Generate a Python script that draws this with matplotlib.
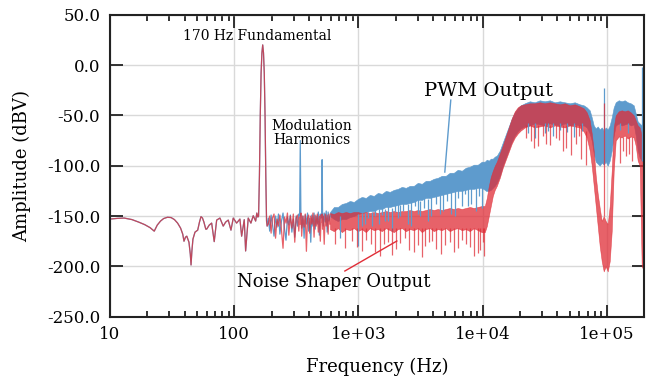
import matplotlib
matplotlib.use("Agg")
import matplotlib.pyplot as plt
from matplotlib.ticker import LogLocator, NullFormatter

PWM_COLOR = "#5e9bcd"
NS_COLOR = "#e02d37"
NS_ALPHA = 0.75

# shared part of both spectra (below ~185 Hz, incl. the 170 Hz fundamental)
common_hz = [10, 11.5, 13, 15, 17, 19, 21, 22.7, 24, 25.5, 27, 29, 31, 33, 35, 37,
             38.5, 39.4, 40.5, 41.5, 43.2, 44.3, 44.9, 45.6, 46.5, 48.3, 50.8, 52.5,
             54, 55.5, 57, 59, 60, 62.9, 65.8, 69, 72.2, 76.7, 81.5, 85.3, 89.5, 94.1,
             98.2, 104.5, 111.1, 114.7, 120.4, 123.5, 129.6, 136.2, 142.2, 148.7, 152,
             155, 157, 159.5, 162, 164.5, 167, 169.5, 172, 174.5, 177, 179.5, 182, 184]
common_db = [-153, -152.3, -152, -153.5, -156, -158.5, -161.5, -165, -159, -155, -152.5,
             -151.2, -151.5, -153.5, -157, -162, -168, -175, -171, -170, -176, -188,
             -198.6, -185, -173, -166, -164, -156, -150.6, -152, -156, -163, -163, -159,
             -157, -175.4, -154, -152, -160, -156, -154, -164, -152, -157, -153, -170,
             -153.6, -184.7, -152, -157, -149.7, -155, -147, -151, -150, -110, -50, -8,
             12, 20, 12, -8, -50, -110, -155, -160]

# sparse noise floor 185-600 Hz (modulation harmonics at 340 / 510 Hz in PWM)
trace_hz = [188, 193, 198, 203, 209, 215, 221, 227, 233, 240, 247, 254, 261, 268, 275,
            283, 291, 299, 307, 315, 323, 331, 336, 340, 344, 349, 357, 365, 373, 381,
            389, 397, 405, 413, 421, 430, 439, 448, 457, 466, 475, 484, 493, 501, 506,
            510, 514, 520, 530, 540, 550, 560, 570, 580, 590]
pwm_trace_db = [-152, -165, -149, -158, -170, -150, -161, -148, -168, -155, -147, -163,
                -174, -151, -159, -149, -166, -153, -171, -150, -160, -148, -150, -75,
                -149, -162, -150, -172, -149, -158, -147, -165, -152, -176, -149, -160,
                -147, -163, -150, -158, -146, -169, -148, -152, -150, -94, -150, -160,
                -147, -156, -145, -166, -146, -155, -150]
ns_trace_db = [-158, -150, -167, -152, -148, -172, -153, -160, -149, -164, -182, -151,
               -157, -147, -169, -150, -162, -148, -176, -152, -149, -165, -151, -158,
               -147, -170, -150, -161, -148, -185, -152, -149, -167, -150, -158, -147,
               -171, -149, -160, -148, -166, -150, -175, -149, -156, -148, -163, -150,
               -178, -148, -160, -149, -168, -148, -158]

# dense part of the spectra, given as top / floor of the noise band
band_hz = [590, 634, 683, 735, 792, 853, 918, 989, 1065, 1147, 1235, 1330, 1433, 1543,
           1662, 1789, 1927, 2075, 2235, 2406, 2591, 2791, 3005, 3236, 3485, 3753, 4042,
           4353, 4688, 5048, 5437, 5855, 6305, 6790, 7311, 7875, 8481, 9133, 9835, 10400,
           10790, 11200, 11620, 12060, 12510, 12990, 13730, 14510, 15340, 16220, 17140,
           18130, 19160, 20250, 21820, 23930, 26250, 28800, 31590, 34660, 38020, 41720,
           45770, 50210, 55080, 60420, 65060, 68780, 72720, 75470, 78320, 81270, 84340,
           87520, 90830, 94250, 97800, 101500, 105300, 109300, 113400, 117700, 124400,
           131600, 139100, 147000, 155400, 164300, 170500, 176900, 183600, 190500, 200000]
pwm_top = [-146, -141, -141, -138, -137, -135, -136, -133, -131, -132, -129, -130, -127,
           -128, -125, -126, -124, -123, -121, -122, -120, -120, -117, -118, -115, -115,
           -113, -112, -110, -110, -107, -107, -104, -105, -102, -101, -99, -99, -96, -96,
           -94, -95, -93, -93, -91, -90, -85, -77, -69, -61, -53, -47, -43, -40, -38, -36,
           -37, -35, -36, -35, -37, -36, -37, -38, -37, -39, -40, -42, -45, -52, -60, -63,
           -61, -64, -62, -65, -62, -64, -60, -52, -42, -37, -35, -36, -35, -37, -38, -40,
           -48, -56, -58, -60, -62]
pwm_floor = [-150, -153, -155, -153, -153, -151, -150, -148, -147, -146, -145, -145, -143,
             -143, -141, -141, -140, -139, -138, -138, -137, -136, -134, -134, -132, -132,
             -131, -130, -129, -128, -127, -126, -125, -125, -124, -123, -123, -122, -122,
             -124, -125, -125, -124, -122, -120, -117, -110, -100, -92, -84, -76, -70, -66,
             -63, -61, -60, -58, -59, -60, -58, -59, -60, -58, -60, -59, -60, -60, -62, -68,
             -75, -88, -96, -98, -100, -97, -99, -96, -100, -95, -85, -70, -60, -58, -60,
             -59, -58, -60, -59, -70, -85, -92, -95, -95]
ns_top = [-147, -148, -146, -147, -146, -147, -146, -146, -147, -146, -147, -146, -147,
          -146, -145, -146, -145, -146, -145, -145, -144, -145, -144, -145, -144, -143,
          -144, -143, -144, -143, -142, -143, -142, -143, -142, -141, -142, -141, -140,
          -140, -132, -120, -111, -105, -100, -96, -88, -80, -71, -62, -53, -46, -42, -40,
          -39, -38, -38, -37, -38, -37, -38, -39, -38, -40, -39, -41, -43, -47, -55, -68,
          -85, -110, -128, -142, -155, -150, -155, -158, -140, -105, -62, -50, -46, -45,
          -46, -45, -47, -50, -55, -60, -62, -70, -150]
ns_floor = [-163, -165, -162, -166, -163, -164, -162, -165, -163, -166, -162, -164, -163,
            -165, -162, -164, -166, -163, -162, -165, -163, -164, -162, -166, -163, -162,
            -165, -163, -164, -162, -165, -163, -162, -164, -163, -165, -162, -164, -166,
            -166, -160, -150, -140, -130, -124, -120, -112, -102, -94, -86, -78, -72, -68,
            -65, -62, -60, -62, -61, -60, -62, -60, -61, -62, -60, -61, -62, -66, -72, -85,
            -100, -120, -140, -160, -180, -195, -205, -200, -205, -195, -165, -105, -75,
            -71, -72, -70, -73, -71, -72, -80, -95, -100, -200, -205]

# isolated spikes: frequency, lower and upper end
pwm_spike_hz = [709, 989, 1126, 1282, 1631, 1856, 2153, 2497, 3119, 3616, 4517, 5964,
                7590, 8800, 31590, 41720, 95480, 190500,
                1065, 1190, 1355, 1459, 1543, 1724, 1963, 2075, 2276, 2640, 2843, 3005,
                3358, 3823, 4195, 4775, 5143, 5540, 6305, 6790, 7178, 8024, 9303, 9835,
                10590, 23060, 26250, 33400, 36640, 47490, 54070, 62720, 126800, 147000]
pwm_spike_lo = [-172, -180, -158, -160, -155, -165, -150, -158, -150, -155, -148, -150,
                -140, -145, -68, -65, -65, -95,
                -160, -152, -150, -158, -149, -155, -146, -152, -145, -160, -140, -148,
                -142, -150, -138, -145, -135, -148, -132, -140, -128, -138, -130, -142,
                -125, -68, -72, -66, -70, -67, -71, -66, -65, -68]
pwm_spike_hi = [-150, -148, -147, -146, -143, -142, -139, -138, -135, -133, -129, -124,
                -120, -117, -58, -58, -23, -2,
                -147, -146, -144, -143, -141, -139, -137, -136, -134, -132, -130, -129,
                -127, -125, -123, -121, -120, -118, -116, -115, -114, -112, -109, -108,
                -107, -58, -58, -58, -58, -58, -58, -58, -58, -58]
ns_spike_hz = [646, 777, 885, 1065, 1259, 1487, 1724, 2000, 2362, 2791, 3421, 3894, 4601,
               5437, 6305, 7311, 8481, 9478, 10200, 24380, 27750, 34660, 38730, 44110,
               51150, 56100, 61550, 67510, 126800, 141700, 158300, 95480,
               971, 1147, 1355, 1600, 1856, 2153, 2544, 3005, 3236, 3685, 4195, 4957,
               5855, 6790, 7875, 9133, 10020, 22220, 25770, 30450, 32180, 40950, 46620,
               59310, 134000, 149800]
ns_spike_lo = [-178, -182, -175, -185, -178, -190, -176, -183, -172, -186, -180, -175,
               -188, -176, -182, -178, -190, -184, -190, -75, -80, -79, -72, -85, -89,
               -78, -93, -99, -97, -90, -95, -150,
               -181, -174, -186, -178, -189, -177, -184, -179, -191, -176, -183, -179,
               -186, -174, -181, -187, -176, -72, -82, -70, -78, -74, -82, -70, -85, -88]
ns_spike_hi = [-162, -162, -162, -162, -162, -162, -162, -162, -162, -162, -162, -162,
               -162, -162, -162, -162, -162, -162, -162, -60, -60, -60, -60, -60, -60,
               -60, -60, -66, -71, -71, -71, -38,
               -162, -162, -162, -162, -162, -162, -162, -162, -162, -162, -162, -162,
               -162, -162, -162, -162, -162, -60, -60, -60, -60, -60, -60, -60, -71, -71]

x_ticks = [10, 100, 1e3, 1e4, 1e5]
x_tick_labels = ["10", "100", "1e+03", "1e+04", "1e+05"]
y_ticks = [-250, -200, -150, -100, -50, 0, 50]
y_tick_labels = ["-250.0", "-200.0", "-150.0", "-100.0", "-50.0", "0.0", "50.0"]

plt.rcParams["font.family"] = ["DejaVu Serif"]

fig = plt.figure(figsize=(6.56, 3.82), dpi=100)
ax = fig.add_axes([0.1677, 0.1709, 0.8145, 0.7906])


def draw_series(hz, db, top, floor, s_hz, s_lo, s_hi, color, alpha):
    ax.plot(hz, db, color=color, lw=0.9, alpha=alpha)
    ax.fill_between(band_hz, floor, top, color=color, alpha=alpha, lw=0.4)
    ax.vlines(s_hz, s_lo, s_hi, color=color, alpha=alpha, lw=0.9)


draw_series(common_hz + trace_hz, common_db + pwm_trace_db, pwm_top, pwm_floor,
            pwm_spike_hz, pwm_spike_lo, pwm_spike_hi, PWM_COLOR, 1.0)
draw_series(common_hz + trace_hz, common_db + ns_trace_db, ns_top, ns_floor,
            ns_spike_hz, ns_spike_lo, ns_spike_hi, NS_COLOR, NS_ALPHA)

# annotations
ax.text(152, 24.8, "170 Hz Fundamental", ha="center", va="baseline", fontsize=10)
ax.text(422, -67.5, "Modulation\nHarmonics", ha="center", va="center", fontsize=10,
        linespacing=1.05)
ax.text(11160, -30.5, "PWM Output", ha="center", va="baseline", fontsize=14)
ax.plot([5534, 4955], [-34.8, -106.3], color=PWM_COLOR, lw=1)
ax.text(634, -220.8, "Noise Shaper Output", ha="center", va="baseline", fontsize=13)
ax.plot([777, 2037], [-204.6, -174.8], color=NS_COLOR, lw=1)

ax.set_xscale("log")
ax.set_xlim(10, 2e5)
ax.set_ylim(-250, 50)
ax.set_xticks(x_ticks, x_tick_labels)
ax.xaxis.set_minor_locator(LogLocator(base=10, subs=range(2, 10)))
ax.xaxis.set_minor_formatter(NullFormatter())
ax.set_yticks(y_ticks, y_tick_labels)

ax.grid(True, which="major", color="#d9d9d9", lw=1)
ax.set_axisbelow(True)
for sp in ax.spines.values():
    sp.set_linewidth(1.5)
    sp.set_color("#222222")
ax.tick_params(which="both", direction="in", top=True, right=True, labelsize=12,
               color="#222222", width=1.3)
ax.tick_params(which="major", length=9, pad=7)
ax.tick_params(which="minor", length=4.5)

ax.set_xlabel("Frequency (Hz)", fontsize=13)
ax.set_ylabel("Amplitude (dBV)", fontsize=13)
ax.xaxis.set_label_coords(0.5, -0.135)
ax.yaxis.set_label_coords(-0.148, 0.5)

fig.savefig("out.png", dpi=100)
